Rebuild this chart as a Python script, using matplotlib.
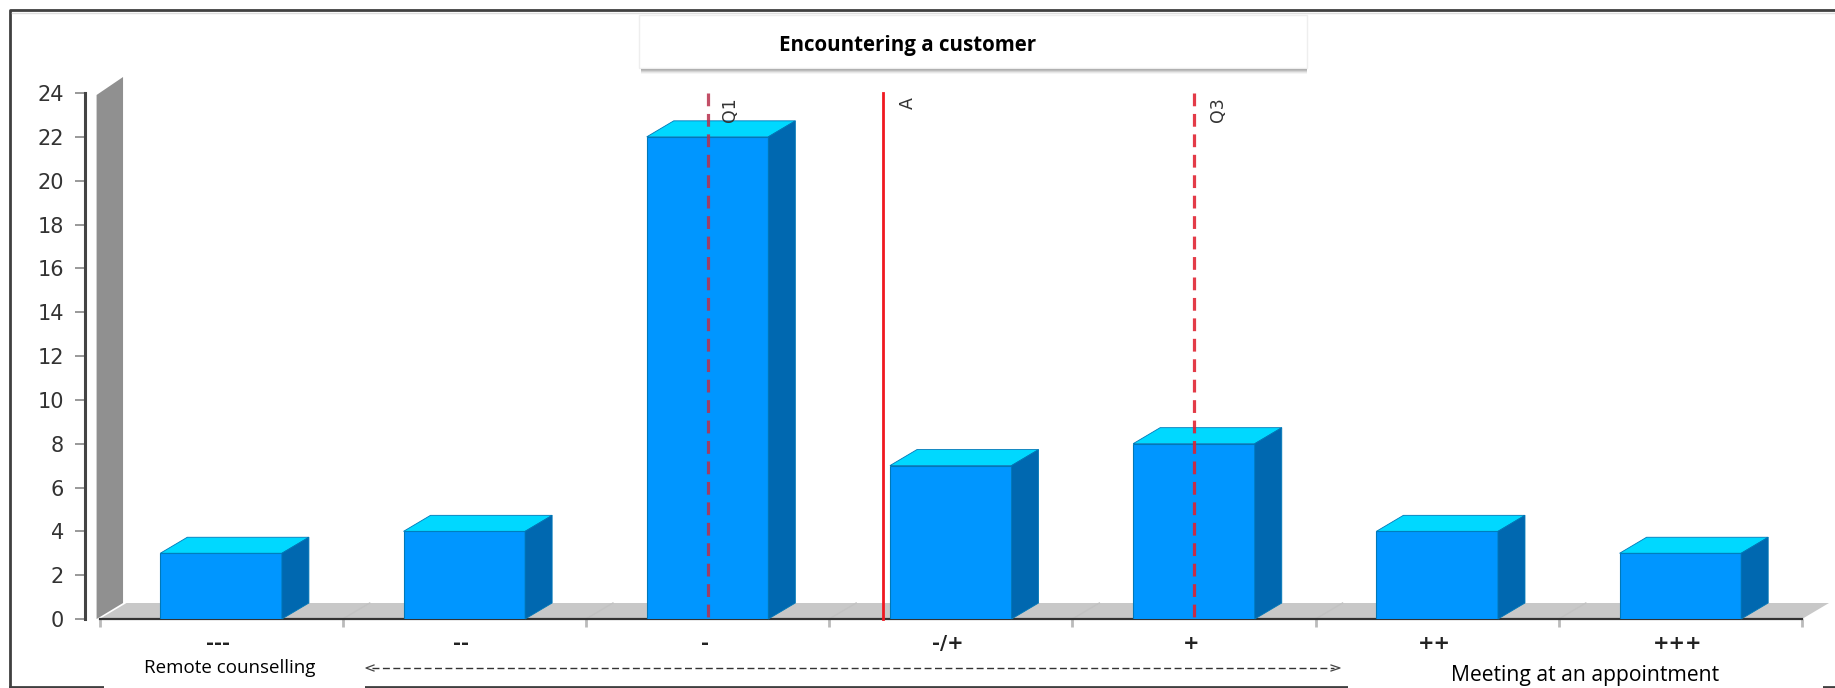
import matplotlib
matplotlib.use("Agg")
import matplotlib.pyplot as plt
from matplotlib.lines import Line2D
from matplotlib.patches import Polygon, Rectangle

# survey answers per category
categories = ["---", "--", "-", "-/+", "+", "++", "+++"]
counts = [3, 4, 22, 7, 8, 4, 3]
y_ticks = list(range(0, 25, 2))

# quartiles and average, in category units
marker_names = ["Q1", "A", "Q3"]
marker_pos = [2.5, 3.22, 4.5]

title_text = "Encountering a customer"
left_text = "Remote counselling"
right_text = "Meeting at an appointment"

W, H = 1835, 688
AX_L, AX_R, AX_B, AX_T = 99.5, 1802, 619, 93
DEPTH_X, DEPTH_Y = 27, 16

FRONT = "#0096ff"
TOP = "#00d8ff"
SIDE = "#0068b0"
EDGE = "#0078b8"

plt.rcParams["font.family"] = ["DejaVu Sans"]


def fx(px):
    return px / W


def fy(py):
    return 1 - py / H


def box(x0, y0, x1, y1, **kw):
    r = Rectangle((fx(x0), fy(y1)), (x1 - x0) / W, (y1 - y0) / H,
                  transform=fig.transFigure, zorder=10, **kw)
    fig.add_artist(r)
    return r


def fig_line(xs, ys, **kw):
    fig.add_artist(Line2D([fx(x) for x in xs], [fy(y) for y in ys],
                          transform=fig.transFigure, **kw))


fig = plt.figure(figsize=(W / 100, H / 100), dpi=100, facecolor="white")
ax = fig.add_axes([fx(AX_L), fy(AX_B), (AX_R - AX_L) / W, (AX_B - AX_T) / H])
ax.set_xlim(0, len(categories))
ax.set_ylim(0, 24)
ax.patch.set_visible(False)

# depth of the fake 3D box in data units
dx = DEPTH_X / ((AX_R - AX_L) / len(categories))
dy = DEPTH_Y / ((AX_B - AX_T) / 24)

# back wall and floor
wall_l = -0.012
ax.add_patch(Polygon([(wall_l, 0), (wall_l + dx * 0.98, dy), (wall_l + dx * 0.98, 24 + dy),
                      (wall_l, 24 - 0.09)],
                     closed=True, fc="#909090", ec="none", clip_on=False, zorder=1))
ax.add_patch(Polygon([(0, 0), (dx, dy), (len(categories) + dx, dy), (len(categories), 0)],
                     closed=True, fc="#c8c8c8", ec="none", clip_on=False, zorder=1))
# faint grid marks running back across the floor
for i in range(1, len(categories)):
    ax.plot([i, i + dx], [0, dy], color="#c2c2c2", lw=1, zorder=1.5, clip_on=False)

# bars, front face through bar() and the two visible sides as polygons
centers = [i + 0.5 for i in range(len(categories))]
bar_w = 0.5
ax.bar(centers, counts, width=bar_w, color=FRONT, edgecolor=EDGE, linewidth=0.8, zorder=3)
for c, v in zip(centers, counts):
    l, r = c - bar_w / 2, c + bar_w / 2
    ax.add_patch(Polygon([(l, v), (l + dx, v + dy), (r + dx, v + dy), (r, v)],
                         closed=True, fc=TOP, ec=EDGE, lw=0.6, zorder=3, clip_on=False))
    ax.add_patch(Polygon([(r, 0), (r + dx, dy), (r + dx, v + dy), (r, v)],
                         closed=True, fc=SIDE, ec=EDGE, lw=0.6, zorder=3, clip_on=False))

# quartile and average lines, drawn top down so the dashes start at the top
styles = {
    "Q1": dict(color="#b8304c", ls=(0, (4, 2.4)), lw=2.3, alpha=0.85),
    "A": dict(color="#f01820", ls="-", lw=2),
    "Q3": dict(color="#e0202e", ls=(0, (4, 2.4)), lw=2.3, alpha=0.88),
}
label_dx = {"Q1": 16, "A": 18.5, "Q3": 17.5}
for name, pos in zip(marker_names, marker_pos):
    ax.plot([pos, pos], [24, 0], zorder=5, clip_on=False, **styles[name])
    ax.annotate(name, (pos, 24), xytext=(label_dx[name], -3), textcoords="offset points",
                rotation=90, ha="center", va="top", fontsize=12.5, color="#333333", zorder=6)

# axes
for s in ["top", "right"]:
    ax.spines[s].set_visible(False)
ax.spines["left"].set_position(("outward", (AX_L - 85) * 0.72))
ax.spines["left"].set_color("#444444")
ax.spines["left"].set_linewidth(2.2)
ax.spines["bottom"].set_color("#333333")
ax.spines["bottom"].set_linewidth(1.6)
ax.spines["bottom"].set_zorder(2)

ax.set_yticks(y_ticks)
ax.tick_params(axis="y", length=7, width=1.4, color="#999999", labelsize=15,
               labelcolor="#333333", pad=8)
ax.set_xticks(range(len(categories) + 1))
ax.set_xticklabels([])
ax.tick_params(axis="x", which="major", length=6, width=2, color="#bbbbbb")
ax.set_xticks([c - 0.012 for c in centers], minor=True)
ax.set_xticklabels(categories, minor=True, fontsize=14, fontweight="bold", color="#222222")
ax.tick_params(axis="x", which="minor", length=0, pad=10.5)

# outer frame, open on the right
fig_line([W, 10, 10], [10, 10, 687], color="#404040", lw=2)
fig_line([10, W], [687, 687], color="#404040", lw=2)
fig_line([12, W], [13, 13], color="#dddddd", lw=1)

# title box with a soft shadow underneath
for off, a in [(6, 0.05), (5, 0.08), (4, 0.12), (3, 0.16), (2, 0.22), (1, 0.28)]:
    box(641, 60, 1307, 68 + off, fc="#444444", ec="none", alpha=a)
box(639, 15, 1307, 68, fc="white", ec="#eeeeee", lw=1)
fig.text(fx(908), fy(46), title_text, ha="center", va="center", fontsize=14.8,
         fontweight="bold", family="Open Sans", zorder=11)

# range labels and the arrow between them
box(104, 658, 365, 690, fc="white", ec="none")
box(1348, 658, 1823, 690, fc="white", ec="none")
fig.text(fx(230), fy(668), left_text, ha="center", va="center", fontsize=13.5,
         family="Open Sans", zorder=11)
fig.text(fx(1585), fy(676), right_text, ha="center", va="center", fontsize=15.2,
         family="Open Sans", zorder=11)
fig_line([372, 1334], [668, 668], color="#333333", lw=1, ls=(0, (5, 2.5)))
fig_line([374, 366, 374], [665, 668, 671], color="#444444", lw=0.9)
fig_line([1331, 1340, 1331], [665, 668, 671], color="#444444", lw=0.9)

fig.savefig("out.png", dpi=100)
